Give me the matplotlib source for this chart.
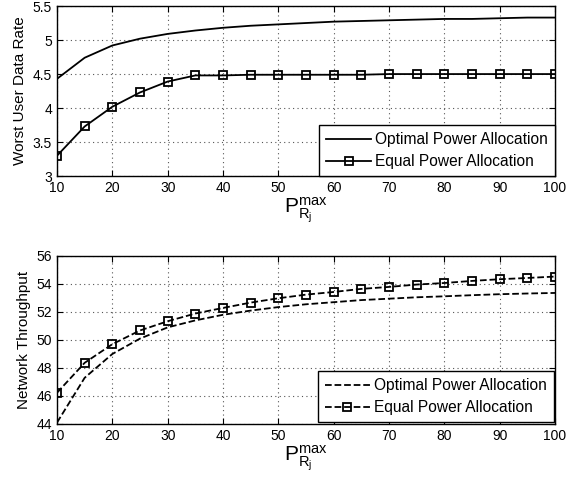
import matplotlib
matplotlib.use("Agg")
import matplotlib.pyplot as plt

plt.rcParams['font.family'] = ['Liberation Sans', 'DejaVu Sans']
plt.rcParams['mathtext.fontset'] = 'custom'
plt.rcParams['mathtext.rm'] = 'Liberation Sans'
plt.rcParams['mathtext.it'] = 'Liberation Sans'

p_max = [10, 15, 20, 25, 30, 35, 40, 45, 50, 55, 60, 65, 70, 75, 80, 85, 90, 95, 100]

rate_optimal = [4.43, 4.74, 4.92, 5.02, 5.09, 5.14, 5.18, 5.21, 5.23, 5.25, 5.27,
                5.28, 5.29, 5.30, 5.31, 5.31, 5.32, 5.33, 5.33]
rate_equal = [3.30, 3.73, 4.02, 4.23, 4.39, 4.48, 4.48, 4.49, 4.49, 4.49, 4.49,
              4.49, 4.50, 4.50, 4.50, 4.50, 4.50, 4.50, 4.50]

thr_optimal = [44.1, 47.3, 49.0, 50.1, 50.9, 51.4, 51.8, 52.1, 52.35, 52.55, 52.7,
               52.85, 52.95, 53.05, 53.12, 53.2, 53.27, 53.32, 53.36]
thr_equal = [46.23, 48.37, 49.70, 50.68, 51.34, 51.89, 52.29, 52.67, 52.98, 53.24,
             53.43, 53.65, 53.79, 53.96, 54.07, 54.22, 54.34, 54.43, 54.53]

labels = ['Optimal Power Allocation', 'Equal Power Allocation']
xlabel = r'$\mathrm{P}_{\mathrm{R}_{\mathrm{j}}}^{\mathrm{max}}$'

fig = plt.figure(figsize=(5.74, 4.8), dpi=100)
ax1 = fig.add_axes([0.0993, 0.633, 0.8677, 0.3545])
ax2 = fig.add_axes([0.0993, 0.1167, 0.8677, 0.35])

def style(ax):
    ax.grid(True, linestyle=(0, (1, 3)), color='#555555', linewidth=0.8)
    ax.tick_params(direction='in', labelsize=10, length=4, top=True, right=True)
    for s in ax.spines.values():
        s.set_linewidth(1.0)
    ax.set_xlim(10, 100)
    ax.set_xticks(range(10, 101, 10))
    ax.set_xlabel(xlabel, fontsize=15, labelpad=0)

ax1.plot(p_max, rate_optimal, '-', color='black', lw=1.3, label=labels[0])
ax1.plot(p_max, rate_equal, '-s', color='black', lw=1.3, mfc='none', mec='black',
         ms=5.5, mew=1.3, label=labels[1])
ax1.set_ylim(3, 5.5)
ax1.set_yticks([3, 3.5, 4, 4.5, 5, 5.5])
ax1.set_yticklabels(['3', '3.5', '4', '4.5', '5', '5.5'])
ax1.set_ylabel('Worst User Data Rate', fontsize=11)
style(ax1)
leg1 = ax1.legend(loc='lower right', borderaxespad=0, fontsize=11.2, fancybox=False,
                  edgecolor='black', framealpha=1, handlelength=2.9, handletextpad=0.25,
                  borderpad=0.45, labelspacing=0.45)
leg1.get_frame().set_linewidth(1.0)

ax2.plot(p_max, thr_optimal, '--', color='black', lw=1.3, label=labels[0])
ax2.plot(p_max, thr_equal, '--s', color='black', lw=1.3, mfc='none', mec='black',
         ms=5.5, mew=1.3, label=labels[1])
ax2.set_ylim(44, 56)
ax2.set_yticks(range(44, 57, 2))
ax2.set_ylabel('Network Throughput', fontsize=11)
style(ax2)
leg2 = ax2.legend(loc='lower right', borderaxespad=0.1, fontsize=11.2, fancybox=False,
                  edgecolor='black', framealpha=1, handlelength=2.9, handletextpad=0.25,
                  borderpad=0.45, labelspacing=0.45)
leg2.get_frame().set_linewidth(1.0)

fig.savefig('out.png', dpi=100)
